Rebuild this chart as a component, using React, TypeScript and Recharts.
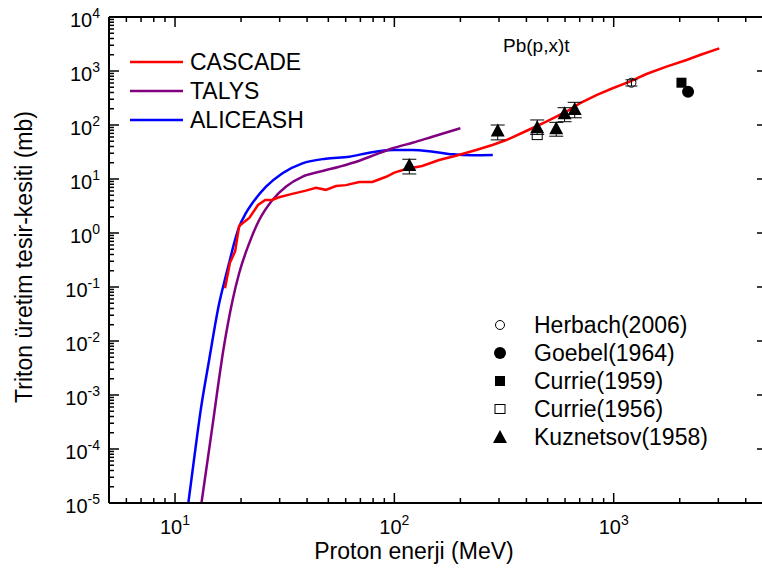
import React from 'react';
import { ComposedChart, Line, Scatter, XAxis, YAxis, ErrorBar } from 'recharts';

// CASCADE
const cascadeE = [16.9, 17.8, 18.8, 19.6, 21.8, 23.9, 25.8, 27.7, 29.8, 34.2, 39.5, 43.9, 48.7, 54.2, 60.1, 69.2, 79.4, 91.7, 100, 113, 134, 160, 191, 236, 280, 324, 399, 493, 608, 700, 834, 989, 1183, 1410, 1740, 2149, 2473, 3029];
const cascadeXS = [0.095, 0.28, 0.46, 1.35, 1.9, 3.3, 4.1, 4.1, 4.6, 5.3, 6.1, 6.9, 6.3, 7.4, 7.7, 8.8, 8.8, 11.0, 13.1, 15.3, 17.4, 22.5, 27, 34.4, 42.6, 52.7, 77.4, 115, 176, 252, 359, 479, 634, 880, 1203, 1600, 1977, 2630];

// TALYS
const talysE = [13.2, 14.8, 16.7, 18.3, 19.6, 21.8, 24.2, 27.8, 32.0, 38.0, 45.5, 56.1, 69.2, 82.5, 98.1, 121, 149, 200];
const talysXS = [1e-5, 2.6e-4, 7.8e-3, 0.057, 0.18, 0.65, 1.74, 4.1, 7.2, 11.0, 13.6, 16.9, 21.8, 28.6, 37.1, 47.0, 60.7, 87];

// ALICEASH
const aliceE = [11.5, 12.2, 13.1, 14.3, 15.9, 16.9, 17.8, 18.6, 19.6, 21, 22.5, 26, 30.9, 38.1, 48.7, 62.3, 76.9, 98, 121, 150, 185, 228, 281];
const aliceXS = [1e-5, 6.3e-5, 5.3e-4, 4.4e-3, 0.05, 0.14, 0.32, 0.65, 1.3, 2.3, 3.55, 7.2, 12.8, 19.5, 23.8, 25.9, 30.7, 34.4, 34.4, 32, 28.6, 27.5, 27.8];

// measured points: energy, cross section, error low, error high
const kuznetsovE = [117, 296, 448, 547, 597, 664];
const kuznetsovXS = [18.2, 79, 91, 87, 165, 198];
const kuznetsovErrLo = [5.8, 26, 24, 25, 50, 62];
const kuznetsovErrHi = [5, 21, 33, 25, 44, 65];

const herbachE = [1205];
const herbachXS = [607];
const herbachErr = [80];

const currie59E = [2037];
const currie59XS = [607];

const currie56E = [448];
const currie56XS = [65];

const goebelE = [2183];
const goebelXS = [414];

const yMajor = [1e-5, 1e-4, 1e-3, 1e-2, 1e-1, 1, 10, 100, 1000, 10000];

const xTicks: number[] = [];
for (let k = 0; k <= 3; k++) {
  for (let j = 1; j <= 9; j++) {
    const v = j * Math.pow(10, k);
    if (v >= 5 && v <= 5000) xTicks.push(v);
  }
}
const yTicks: number[] = [];
yMajor.forEach((m, i) => {
  yTicks.push(m);
  if (i < yMajor.length - 1) for (let j = 2; j <= 9; j++) yTicks.push(j * m);
});

const toPts = (xs: number[], ys: number[]) => xs.map((x, i) => ({ x, y: ys[i] }));

const cascade = toPts(cascadeE, cascadeXS);
const talys = toPts(talysE, talysXS);
const alice = toPts(aliceE, aliceXS);
const kuznetsov = kuznetsovE.map((x, i) => ({ x, y: kuznetsovXS[i], err: [kuznetsovErrLo[i], kuznetsovErrHi[i]] }));
const herbach = herbachE.map((x, i) => ({ x, y: herbachXS[i], err: herbachErr[i] }));
const currie59 = toPts(currie59E, currie59XS);
const currie56 = toPts(currie56E, currie56XS);
const goebel = toPts(goebelE, goebelXS);

const FONT = '"Liberation Sans", Arial, sans-serif';

const isMajor = (v: number) => Math.abs(Math.log10(v) - Math.round(Math.log10(v))) < 1e-9;
const expOf = (v: number) => String(Math.round(Math.log10(v)));

const Pow = ({ x, y, exp, anchor }: any) => (
  <text x={x} y={y} textAnchor={anchor} fontFamily={FONT} fill="#000">
    <tspan fontSize={20}>10</tspan>
    <tspan fontSize={14} dy={-9}>{exp}</tspan>
  </text>
);

const BottomTick = ({ x, y, payload }: any) => {
  const major = isMajor(payload.value);
  return (
    <g>
      <line x1={x} x2={x} y1={y} y2={y - (major ? 10 : 5)} stroke="#000" strokeWidth={1.5} />
      {major && <Pow x={x} y={y + 31} exp={expOf(payload.value)} anchor="middle" />}
    </g>
  );
};

const TopTick = ({ x, y, payload }: any) => (
  <line x1={x} x2={x} y1={y} y2={y + (isMajor(payload.value) ? 10 : 5)} stroke="#000" strokeWidth={1.5} />
);

const LeftTick = ({ x, y, payload }: any) => {
  const major = isMajor(payload.value);
  return (
    <g>
      <line x1={x} x2={x + (major ? 10 : 5)} y1={y} y2={y} stroke="#000" strokeWidth={1.5} />
      {major && <Pow x={x - 9} y={y + 10} exp={expOf(payload.value)} anchor="end" />}
    </g>
  );
};

const RightTick = ({ x, y, payload }: any) => (
  <line x1={x} x2={x - (isMajor(payload.value) ? 10 : 5)} y1={y} y2={y} stroke="#000" strokeWidth={1.5} />
);

const triPath = (cx: number, cy: number) => `M${cx},${cy - 7} L${cx + 7},${cy + 6} L${cx - 7},${cy + 6} Z`;

const Triangle = (p: any) => <path d={triPath(p.cx, p.cy)} fill="#000" />;
const OpenCircle = (p: any) => <circle cx={p.cx} cy={p.cy} r={4.5} fill="none" stroke="#000" strokeWidth={1} />;
const FilledCircle = (p: any) => <circle cx={p.cx} cy={p.cy} r={6} fill="#000" />;
const FilledSquare = (p: any) => <rect x={p.cx - 5} y={p.cy - 5} width={10} height={10} fill="#000" />;
const OpenSquare = (p: any) => <rect x={p.cx - 5} y={p.cy - 4.5} width={10} height={9} fill="none" stroke="#000" strokeWidth={1} />;

const lineLegend = [
  { name: 'CASCADE', color: '#ff0000', y: 62 },
  { name: 'TALYS', color: '#800080', y: 91 },
  { name: 'ALICEASH', color: '#0000ff', y: 120 },
];

const pointLegend = [
  { name: 'Herbach(2006)', y: 325, kind: 'oc' },
  { name: 'Goebel(1964)', y: 353, kind: 'fc' },
  { name: 'Currie(1959)', y: 381, kind: 'fs' },
  { name: 'Currie(1956)', y: 409, kind: 'os' },
  { name: 'Kuznetsov(1958)', y: 437, kind: 'tri' },
];

const legendMarker = (kind: string, cx: number, cy: number) => {
  if (kind === 'oc') return <OpenCircle cx={cx} cy={cy} />;
  if (kind === 'fc') return <FilledCircle cx={cx} cy={cy} />;
  if (kind === 'fs') return <FilledSquare cx={cx} cy={cy} />;
  if (kind === 'os') return <OpenSquare cx={cx} cy={cy} />;
  return <Triangle cx={cx} cy={cy} />;
};

export default function App() {
  return (
    <div style={{ position: 'fixed', left: 0, top: 0, width: 762, height: 568, overflow: 'hidden', background: '#fff' }}>
      <div style={{ position: 'relative', width: 780, height: 568 }}>
        <ComposedChart width={780} height={568} margin={{ top: 16, right: 12, bottom: 64, left: 108 }}>
          <XAxis
            xAxisId="b"
            dataKey="x"
            type="number"
            scale="log"
            domain={[5, 5000]}
            allowDataOverflow
            ticks={xTicks}
            interval={0}
            height={1}
            tickSize={0}
            tickMargin={0}
            tickLine={false}
            axisLine={{ stroke: '#000', strokeWidth: 2 }}
            tick={<BottomTick />}
          />
          <XAxis
            xAxisId="t"
            orientation="top"
            dataKey="x"
            type="number"
            scale="log"
            domain={[5, 5000]}
            allowDataOverflow
            ticks={xTicks}
            interval={0}
            height={1}
            tickSize={0}
            tickMargin={0}
            tickLine={false}
            axisLine={{ stroke: '#000', strokeWidth: 2 }}
            tick={<TopTick />}
          />
          <YAxis
            yAxisId="l"
            dataKey="y"
            type="number"
            scale="log"
            domain={[1e-5, 1e4]}
            allowDataOverflow
            ticks={yTicks}
            interval={0}
            width={1}
            tickSize={0}
            tickMargin={0}
            tickLine={false}
            axisLine={{ stroke: '#000', strokeWidth: 2 }}
            tick={<LeftTick />}
          />
          <YAxis
            yAxisId="r"
            orientation="right"
            dataKey="y"
            type="number"
            scale="log"
            domain={[1e-5, 1e4]}
            allowDataOverflow
            ticks={yTicks}
            interval={0}
            width={1}
            tickSize={0}
            tickMargin={0}
            tickLine={false}
            axisLine={{ stroke: '#000', strokeWidth: 2 }}
            tick={<RightTick />}
          />
          <Line xAxisId="b" yAxisId="l" data={alice} dataKey="y" type="monotone" stroke="#0000ff" strokeWidth={2.5} dot={false} isAnimationActive={false} />
          <Line xAxisId="b" yAxisId="l" data={talys} dataKey="y" type="monotone" stroke="#800080" strokeWidth={2.5} dot={false} isAnimationActive={false} />
          <Line xAxisId="b" yAxisId="l" data={cascade} dataKey="y" type="linear" stroke="#ff0000" strokeWidth={2.5} dot={false} isAnimationActive={false} />
          <Scatter xAxisId="b" yAxisId="l" data={currie56} dataKey="y" shape={OpenSquare} isAnimationActive={false} />
          <Scatter xAxisId="b" yAxisId="l" data={kuznetsov} dataKey="y" shape={Triangle} isAnimationActive={false}>
            <ErrorBar dataKey="err" direction="y" width={7} stroke="#000" strokeWidth={1} />
          </Scatter>
          <Scatter xAxisId="b" yAxisId="l" data={herbach} dataKey="y" shape={OpenCircle} isAnimationActive={false}>
            <ErrorBar dataKey="err" direction="y" width={6} stroke="#000" strokeWidth={1} />
          </Scatter>
          <Scatter xAxisId="b" yAxisId="l" data={currie59} dataKey="y" shape={FilledSquare} isAnimationActive={false} />
          <Scatter xAxisId="b" yAxisId="l" data={goebel} dataKey="y" shape={FilledCircle} isAnimationActive={false} />
        </ComposedChart>
        <svg width={780} height={568} style={{ position: 'absolute', left: 0, top: 0, pointerEvents: 'none' }}>
          {lineLegend.map((l) => (
            <g key={l.name}>
              <line x1={130} x2={183} y1={l.y} y2={l.y} stroke={l.color} strokeWidth={2.5} />
              <text x={190} y={l.y + 8} fontFamily={FONT} fontSize={23} fill="#000">{l.name}</text>
            </g>
          ))}
          {pointLegend.map((l) => (
            <g key={l.name}>
              {legendMarker(l.kind, 500, l.y)}
              <text x={534} y={l.y + 8} fontFamily={FONT} fontSize={23} fill="#000">{l.name}</text>
            </g>
          ))}
          <text x={503} y={52} fontFamily={FONT} fontSize={19} fill="#000">Pb(p,x)t</text>
          <text x={414} y={559} textAnchor="middle" fontFamily={FONT} fontSize={23} fill="#000">Proton enerji (MeV)</text>
          <text x={32} y={257} transform="rotate(-90 32 257)" textAnchor="middle" fontFamily={FONT} fontSize={23} fill="#000">
            Triton üretim tesir-kesiti (mb)
          </text>
        </svg>
      </div>
    </div>
  );
}
